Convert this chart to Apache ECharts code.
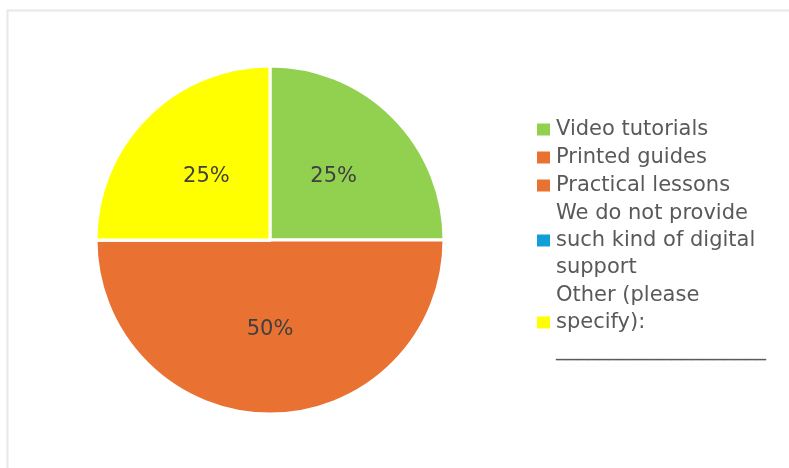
<!DOCTYPE html>
<html>
<head>
<meta charset="utf-8">
<script src="https://cdn.jsdelivr.net/npm/echarts@6/dist/echarts.min.js"></script>
<style>
  html, body { margin: 0; padding: 0; background: #ffffff; }
  #chart { width: 789px; height: 468px; }
</style>
</head>
<body>
<div id="chart"></div>
<script>
// Answer options and their shares of responses (percent)
const categories = [
  'Video tutorials',
  'Printed guides',
  'Practical lessons',
  'We do not provide\nsuch kind of digital\nsupport',
  'Other (please\nspecify):\n____________________'
];
const shares = [25, 50, 0, 0, 25];
const colors = ['#92D050', '#E97132', '#E97132', '#0F9ED5', '#FFFF00'];

const FONT = 'DejaVu Sans, Verdana, sans-serif';

const chart = echarts.init(document.getElementById('chart'), null, { renderer: 'canvas' });

const pieData = categories.map((name, i) => ({
  name: name,
  value: shares[i],
  itemStyle: { color: colors[i] }
}));

chart.setOption({
  animation: false,
  backgroundColor: '#ffffff',
  graphic: [{
    type: 'rect',
    left: 5,
    top: 8,
    shape: { width: 820, height: 480 },
    style: { fill: 'none', stroke: '#e8e8e8', lineWidth: 2 },
    silent: true
  }],
  legend: {
    orient: 'vertical',
    left: 530,
    top: 111,
    itemWidth: 15,
    itemHeight: 14,
    itemGap: 1,
    icon: 'rect',
    selectedMode: false,
    textStyle: {
      fontFamily: FONT,
      fontSize: 21,
      lineHeight: 27,
      color: '#595959'
    },
    data: categories
  },
  series: [{
    type: 'pie',
    center: [270, 240],
    radius: [0, 174],
    startAngle: 90,
    clockwise: true,
    stillShowZeroSum: false,
    avoidLabelOverlap: false,
    itemStyle: { borderColor: '#ffffff', borderWidth: 3 },
    label: {
      show: true,
      position: 'inside',
      fontFamily: FONT,
      fontSize: 21,
      color: '#404040',
      formatter: p => (p.value > 0 ? p.value + '%' : '')
    },
    labelLine: { show: false },
    emphasis: { disabled: true },
    data: pieData
  }]
});
</script>
</body>
</html>
